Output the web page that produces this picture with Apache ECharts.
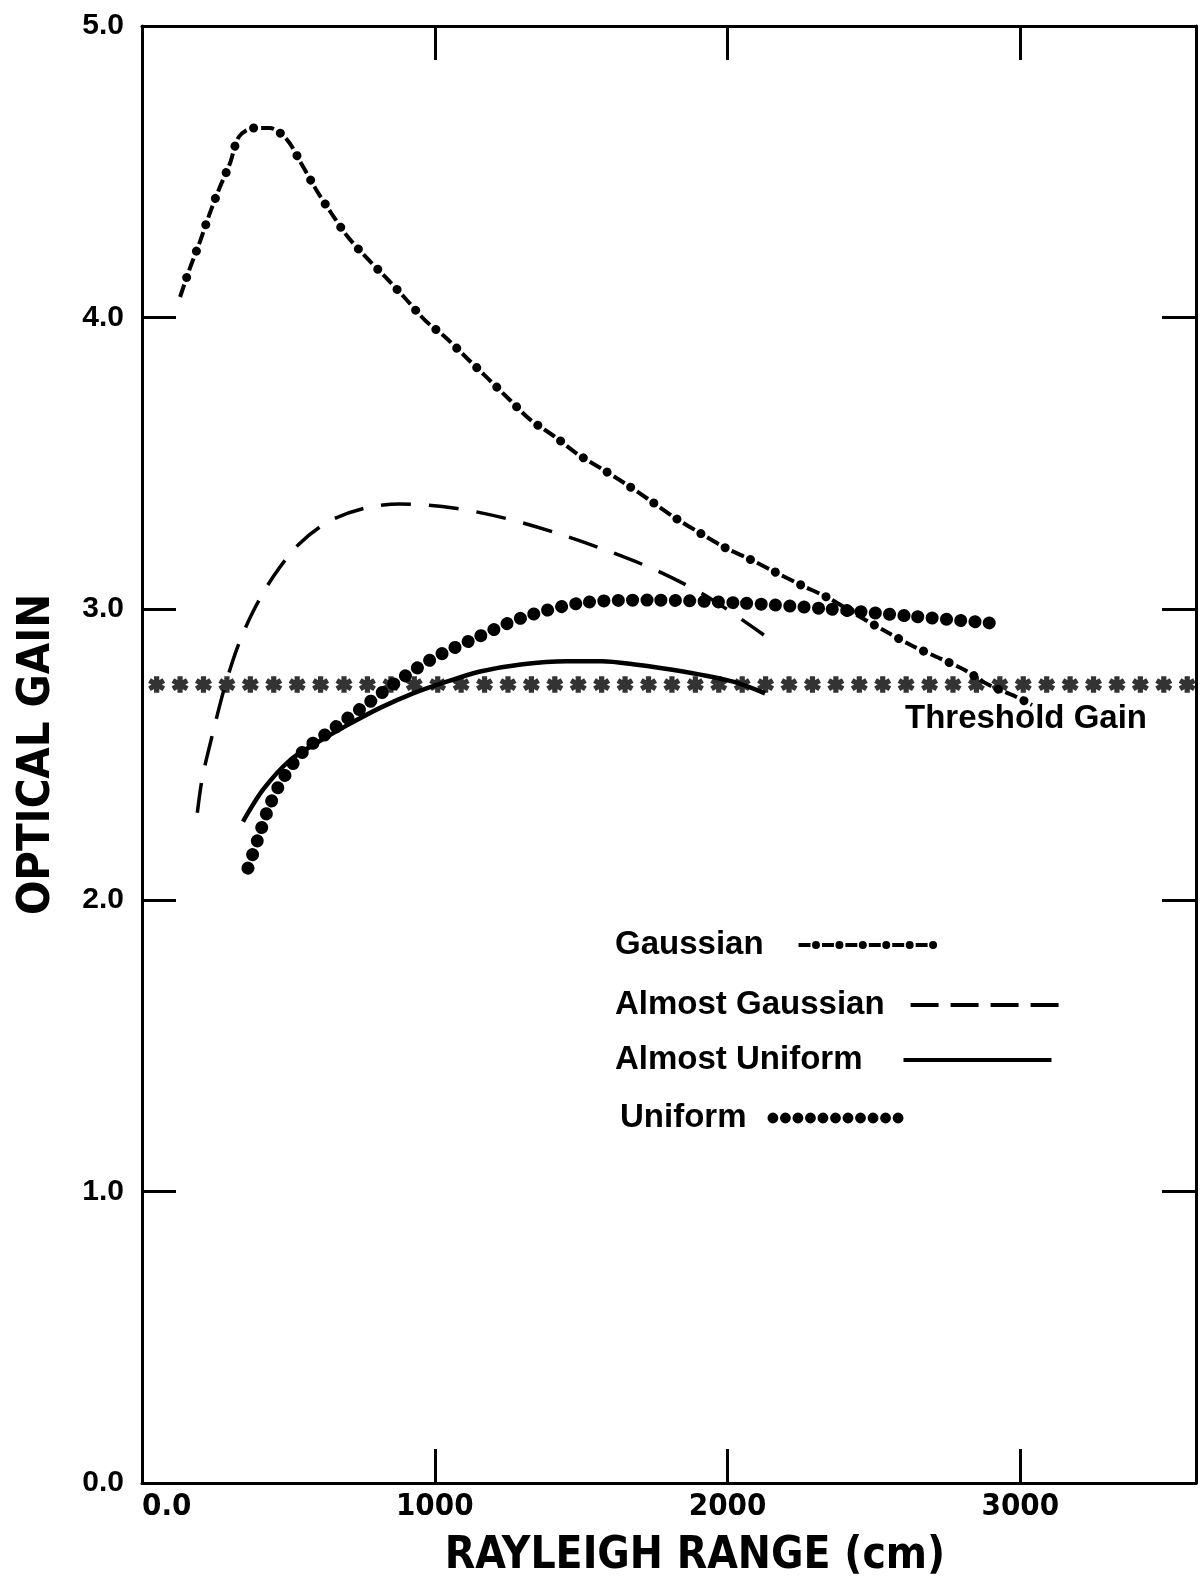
<!DOCTYPE html>
<html>
<head>
<meta charset="utf-8">
<title>Optical gain vs Rayleigh range</title>
<script src="https://cdn.jsdelivr.net/npm/echarts@6/dist/echarts.min.js"></script>
<style>
  html, body { margin: 0; padding: 0; background: #fff; }
  #chart { width: 1200px; height: 1586px; }
</style>
</head>
<body>
<div id="chart"></div>
<script>
// values: Rayleigh range (cm) -> optical gain
const gaussianX = [130, 164, 198, 229, 263, 301, 331, 380, 437, 495, 543, 594, 645, 700, 762, 830, 895, 967, 1038, 1110, 1182, 1253, 1325, 1411, 1489, 1571, 1650, 1738, 1824, 1906, 1991, 2076, 2155, 2254, 2339, 2440, 2544, 2637, 2725, 2810, 2890, 2982, 3040];
const gaussianY = [4.07, 4.17, 4.26, 4.35, 4.44, 4.53, 4.62, 4.65, 4.65, 4.61, 4.53, 4.44, 4.36, 4.28, 4.21, 4.14, 4.07, 3.99, 3.93, 3.86, 3.79, 3.72, 3.65, 3.59, 3.53, 3.48, 3.43, 3.37, 3.31, 3.26, 3.21, 3.17, 3.13, 3.08, 3.04, 2.98, 2.92, 2.87, 2.83, 2.79, 2.74, 2.70, 2.67];

const almostGaussX = [189, 206, 241, 282, 327, 379, 448, 534, 638, 759, 880, 1070, 1243, 1416, 1588, 1761, 1934, 2124];
const almostGaussY = [2.30, 2.42, 2.57, 2.73, 2.87, 2.99, 3.11, 3.22, 3.30, 3.345, 3.36, 3.345, 3.31, 3.26, 3.20, 3.13, 3.04, 2.91];

const almostUniformX = [345, 414, 505, 597, 700, 813, 926, 1041, 1155, 1300, 1450, 1571, 1677, 1848, 2019, 2128];
const almostUniformY = [2.27, 2.38, 2.48, 2.54, 2.60, 2.66, 2.71, 2.75, 2.785, 2.81, 2.82, 2.82, 2.81, 2.785, 2.75, 2.71];

const uniformX = [362, 396, 430, 477, 550, 642, 751, 871, 994, 1130, 1300, 1500, 1735, 2042, 2339, 2623, 2913];
const uniformY = [2.11, 2.21, 2.31, 2.41, 2.51, 2.58, 2.66, 2.75, 2.83, 2.895, 2.97, 3.02, 3.03, 3.02, 3.00, 2.975, 2.95];

// threshold gain, one asterisk per position
const thresholdGain = 2.74;
const thresholdX = [50, 130, 210, 290, 370, 450, 530, 610, 690, 770, 850, 930, 1010, 1090, 1170, 1250, 1330, 1410, 1490, 1570, 1650, 1730, 1810, 1890, 1970, 2050, 2130, 2210, 2290, 2370, 2450, 2530, 2610, 2690, 2770, 2850, 2930, 3010, 3090, 3170, 3250, 3330, 3410, 3490, 3570];

const xTickLabels = ['0.0', '1000', '2000', '3000'];
const yTickLabels = ['0.0', '1.0', '2.0', '3.0', '4.0', '5.0'];

const zip = (xs, ys) => xs.map((x, i) => [x, ys[i]]);

// little shapes for the legend samples
const rect = (x, y, w, h) => `M${x},${y}L${x + w},${y}L${x + w},${y + h}L${x},${y + h}Z`;
const dot = (cx, cy, r) => `M${cx - r},${cy}A${r},${r},0,1,0,${cx + r},${cy}A${r},${r},0,1,0,${cx - r},${cy}Z`;

let gaussIcon = '';
for (let k = 0; k < 6; k++) gaussIcon += rect(k * 23.5, 2, 12, 4) + dot(k * 23.5 + 17.5, 4, 4);
let almostGaussIcon = '';
for (let k = 0; k < 4; k++) almostGaussIcon += rect(k * 40, 0, 28, 4);
const almostUniformIcon = rect(0, 0, 148, 4);
let uniformIcon = '';
for (let k = 0; k < 11; k++) uniformIcon += dot(5.5 + k * 12.7, 5.5, 5.5);

const asterisk = 'path://M2.2,-7L-2.2,-7L-2.2,7L2.2,7Z M-7.16,-1.595L4.96,5.405L7.16,1.595L-4.96,-5.405Z M-7.16,1.595L-4.96,5.405L7.16,-1.595L4.96,-5.405Z';

const narrow = "'DejaVu Sans Condensed', 'Liberation Sans Narrow', sans-serif";
const plain = "'Liberation Sans', Arial, sans-serif";

const axisLine = { show: true, onZero: false, lineStyle: { color: '#000', width: 3 } };
const axisTick = { show: true, inside: true, length: 34, lineStyle: { color: '#000', width: 3 } };

function legendFor(name, icon, w, h, left, top, gap) {
    return {
        left: left, top: top, padding: 0,
        orient: 'vertical', align: 'right',
        selectedMode: false,
        itemWidth: w, itemHeight: h,
        itemStyle: { color: '#000', borderWidth: 0 },
        textStyle: { color: '#000', fontFamily: plain, fontWeight: 'bold', fontSize: 33, lineHeight: 40, padding: [0, gap, 0, 0] },
        data: [{ name: name, icon: 'path://' + icon }]
    };
}

const chart = echarts.init(document.getElementById('chart'));
const option = {
    animation: false,
    backgroundColor: '#fff',
    grid: { left: 142, right: 4, top: 26, bottom: 103, containLabel: false, outerBoundsMode: 'none' },
    xAxis: [
        {
            type: 'value', position: 'bottom', min: 0, max: 3600, interval: 1000,
            name: 'RAYLEIGH RANGE (cm)', nameLocation: 'middle', nameGap: 52,
            nameTextStyle: { color: '#000', fontFamily: narrow, fontWeight: 'bold', fontSize: 44, padding: [0, 0, 0, 52] },
            axisLine: axisLine, axisTick: axisTick, splitLine: { show: false },
            axisLabel: {
                color: '#000', fontFamily: narrow, fontWeight: 'bold', fontSize: 31, margin: 8,
                alignMinLabel: 'left', showMaxLabel: false,
                formatter: v => xTickLabels[v / 1000] ?? ''
            }
        },
        {
            type: 'value', position: 'top', min: 0, max: 3600, interval: 1000,
            axisLine: axisLine, axisTick: axisTick, axisLabel: { show: false }, splitLine: { show: false }
        }
    ],
    yAxis: [
        {
            type: 'value', position: 'left', min: 0, max: 5, interval: 1,
            name: 'OPTICAL GAIN', nameLocation: 'middle', nameRotate: 90, nameGap: 82,
            nameTextStyle: { color: '#000', fontFamily: narrow, fontWeight: 'bold', fontSize: 45 },
            axisLine: axisLine, axisTick: axisTick, splitLine: { show: false },
            axisLabel: {
                color: '#000', fontFamily: plain, fontWeight: 'bold', fontSize: 30, margin: 18,
                formatter: v => yTickLabels[v] ?? ''
            }
        },
        {
            type: 'value', position: 'right', min: 0, max: 5, interval: 1,
            axisLine: axisLine, axisTick: axisTick, axisLabel: { show: false }, splitLine: { show: false }
        }
    ],
    legend: [
        legendFor('Gaussian', gaussIcon, 138.5, 8, 615, 925, 30),
        legendFor('Almost Gaussian', almostGaussIcon, 150, 4, 615, 985, 20),
        legendFor('Almost Uniform', almostUniformIcon, 148, 4, 615, 1040, 36),
        legendFor('Uniform', uniformIcon, 136, 11, 620, 1098, 16)
    ],
    graphic: [
        {
            type: 'text', left: 905, top: 702, silent: true,
            style: { text: 'Threshold Gain', fill: '#000', font: "bold 33px 'Liberation Sans', Arial, sans-serif" }
        }
    ],
    series: [
        {
            name: 'Gaussian', type: 'line', smooth: 0.3, symbol: 'none',
            data: zip(gaussianX, gaussianY),
            lineStyle: { color: '#000', width: 4, type: [13, 15] }
        },
        {
            name: 'Gaussian', type: 'line', smooth: 0.3, symbol: 'none',
            data: zip(gaussianX, gaussianY),
            lineStyle: { color: '#000', width: 9, cap: 'round', type: [0.1, 27.9], dashOffset: 7.5 }
        },
        {
            name: 'Almost Gaussian', type: 'line', smooth: 0.3, symbol: 'none',
            data: zip(almostGaussX, almostGaussY),
            lineStyle: { color: '#000', width: 3.5, type: [30, 18] }
        },
        {
            name: 'Almost Uniform', type: 'line', smooth: 0.3, symbol: 'none',
            data: zip(almostUniformX, almostUniformY),
            lineStyle: { color: '#000', width: 4.5 }
        },
        {
            name: 'Uniform', type: 'line', smooth: 0.3, symbol: 'none',
            data: zip(uniformX, uniformY),
            lineStyle: { color: '#000', width: 13, cap: 'round', type: [0.1, 14.2] }
        },
        {
            name: 'Threshold Gain', type: 'scatter',
            data: thresholdX.map(x => [x, thresholdGain]),
            symbol: asterisk, symbolSize: [17, 17], symbolKeepAspect: true,
            itemStyle: { color: '#000' }
        }
    ]
};
chart.setOption(option);
</script>
</body>
</html>
